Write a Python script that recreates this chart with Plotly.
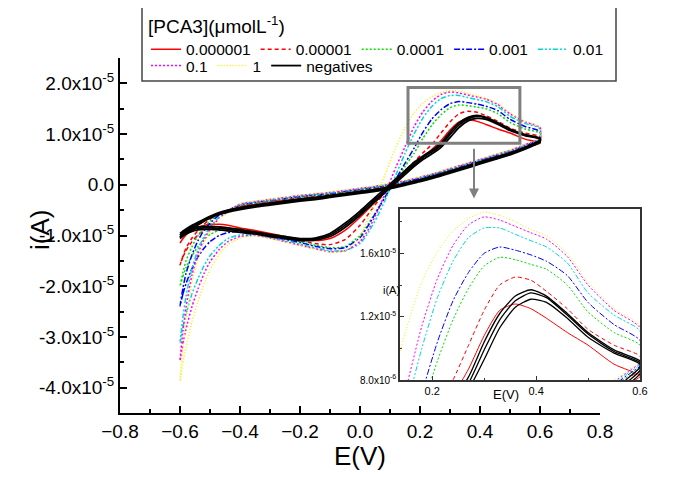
import numpy as np
import plotly.graph_objects as go

# ---------------- data (current in units of 1e-5 A) ----------------
E_FWD = [-0.60, -0.59, -0.58, -0.56, -0.54, -0.52, -0.50, -0.47, -0.44, -0.40,
         -0.35, -0.30, -0.25, -0.20, -0.15, -0.10, -0.05, 0.00, 0.03, 0.06,
         0.09, 0.12, 0.15, 0.18, 0.21, 0.24, 0.27, 0.30, 0.33, 0.36,
         0.39, 0.42, 0.46, 0.50, 0.55, 0.60]
E_REV = [0.60, 0.58, 0.55, 0.50, 0.45, 0.40, 0.35, 0.30, 0.25, 0.20,
         0.15, 0.10, 0.05, 0.00, -0.05, -0.10, -0.15, -0.20, -0.25, -0.30,
         -0.35, -0.40, -0.44, -0.47, -0.50, -0.52, -0.54, -0.56, -0.58, -0.59, -0.60]

labels = ["0.000001", "0.00001", "0.0001", "0.001", "0.01", "0.1", "1"]

fwd_0_000001 = [-1.15, -1.06, -0.99, -0.90, -0.84, -0.80, -0.78, -0.78, -0.80, -0.85,
                -0.90, -0.96, -1.02, -1.07, -1.10, -1.06, -0.90, -0.64, -0.46, -0.28,
                -0.10, 0.06, 0.22, 0.38, 0.54, 0.70, 0.87, 1.08, 1.24, 1.28,
                1.25, 1.19, 1.10, 1.02, 0.90, 0.83]
rev_0_000001 = [0.82, 0.78, 0.71, 0.61, 0.52, 0.44, 0.35, 0.26, 0.17, 0.09,
                0.02, -0.05, -0.10, -0.14, -0.18, -0.22, -0.25, -0.28, -0.31, -0.35,
                -0.39, -0.44, -0.50, -0.56, -0.64, -0.71, -0.79, -0.88, -0.98, -1.06, -1.15]

fwd_0_00001 = [-1.58, -1.42, -1.30, -1.12, -0.99, -0.90, -0.85, -0.83, -0.85, -0.90,
               -0.93, -0.98, -1.04, -1.10, -1.16, -1.18, -1.08, -0.80, -0.56, -0.32,
               -0.10, 0.10, 0.28, 0.45, 0.63, 0.80, 1.02, 1.24, 1.40, 1.45,
               1.43, 1.36, 1.25, 1.12, 1.02, 0.95]
rev_0_00001 = [0.86, 0.82, 0.75, 0.64, 0.55, 0.46, 0.37, 0.28, 0.19, 0.11,
               0.04, -0.02, -0.07, -0.11, -0.15, -0.19, -0.22, -0.25, -0.29, -0.33,
               -0.37, -0.42, -0.50, -0.57, -0.68, -0.78, -0.90, -1.05, -1.25, -1.40, -1.58]

fwd_0_0001 = [-2.00, -1.80, -1.64, -1.40, -1.22, -1.08, -0.98, -0.90, -0.88, -0.90,
              -0.95, -1.00, -1.06, -1.12, -1.19, -1.24, -1.22, -1.00, -0.75, -0.46,
              -0.18, 0.10, 0.36, 0.62, 0.92, 1.18, 1.38, 1.52, 1.575, 1.56,
              1.53, 1.50, 1.40, 1.23, 1.10, 1.02]
rev_0_0001 = [0.88, 0.83, 0.76, 0.65, 0.56, 0.47, 0.38, 0.29, 0.20, 0.12,
              0.05, -0.01, -0.06, -0.10, -0.14, -0.18, -0.21, -0.24, -0.28, -0.32,
              -0.36, -0.41, -0.50, -0.58, -0.72, -0.85, -1.00, -1.22, -1.50, -1.72, -2.00]

fwd_0_001 = [-2.39, -2.15, -1.95, -1.65, -1.42, -1.25, -1.12, -1.00, -0.94, -0.92,
             -0.97, -1.02, -1.08, -1.14, -1.21, -1.26, -1.24, -1.04, -0.78, -0.48,
             -0.18, 0.12, 0.42, 0.72, 1.04, 1.30, 1.48, 1.60, 1.64, 1.62,
             1.59, 1.55, 1.46, 1.29, 1.15, 1.05]
rev_0_001 = [0.89, 0.84, 0.77, 0.66, 0.57, 0.48, 0.39, 0.30, 0.21, 0.13,
             0.06, 0.00, -0.05, -0.09, -0.13, -0.17, -0.20, -0.23, -0.27, -0.31,
             -0.35, -0.40, -0.50, -0.60, -0.76, -0.90, -1.10, -1.38, -1.75, -2.03, -2.39]

fwd_0_01 = [-3.12, -2.80, -2.55, -2.15, -1.85, -1.60, -1.40, -1.20, -1.06, -0.99,
            -0.99, -1.04, -1.10, -1.17, -1.24, -1.30, -1.30, -1.16, -0.92, -0.60,
            -0.22, 0.20, 0.62, 1.00, 1.32, 1.55, 1.70, 1.76, 1.76, 1.72,
            1.68, 1.64, 1.54, 1.35, 1.21, 1.11]
rev_0_01 = [0.90, 0.85, 0.78, 0.67, 0.58, 0.49, 0.40, 0.31, 0.22, 0.14,
            0.07, 0.01, -0.04, -0.08, -0.12, -0.16, -0.19, -0.22, -0.26, -0.30,
            -0.34, -0.39, -0.52, -0.64, -0.84, -1.02, -1.28, -1.65, -2.20, -2.60, -3.12]

fwd_0_1 = [-3.47, -3.12, -2.85, -2.40, -2.05, -1.75, -1.52, -1.28, -1.12, -1.02,
           -1.00, -1.05, -1.12, -1.19, -1.26, -1.32, -1.30, -1.12, -0.86, -0.50,
           -0.08, 0.35, 0.75, 1.14, 1.44, 1.65, 1.78, 1.83, 1.81, 1.77,
           1.73, 1.69, 1.58, 1.40, 1.24, 1.13]
rev_0_1 = [0.91, 0.86, 0.79, 0.68, 0.59, 0.50, 0.41, 0.32, 0.23, 0.15,
           0.08, 0.02, -0.03, -0.07, -0.11, -0.15, -0.18, -0.21, -0.25, -0.29,
           -0.33, -0.38, -0.53, -0.66, -0.88, -1.08, -1.36, -1.78, -2.42, -2.88, -3.47]

fwd_1 = [-3.87, -3.50, -3.20, -2.70, -2.30, -1.95, -1.68, -1.38, -1.18, -1.05,
         -1.00, -1.06, -1.13, -1.20, -1.27, -1.33, -1.30, -1.02, -0.62, -0.16,
         0.30, 0.75, 1.12, 1.42, 1.61, 1.74, 1.82, 1.86, 1.84, 1.80,
         1.75, 1.71, 1.60, 1.42, 1.25, 1.14]
rev_1 = [0.92, 0.87, 0.80, 0.69, 0.60, 0.51, 0.42, 0.33, 0.24, 0.16,
         0.09, 0.03, -0.02, -0.06, -0.10, -0.14, -0.17, -0.20, -0.24, -0.28,
         -0.32, -0.37, -0.54, -0.68, -0.92, -1.14, -1.45, -1.92, -2.65, -3.20, -3.87]

fwd_neg_a = [-1.00, -0.95, -0.91, -0.86, -0.83, -0.82, -0.82, -0.83, -0.85, -0.88,
             -0.93, -0.98, -1.02, -1.06, -1.05, -0.96, -0.76, -0.52, -0.36, -0.20,
             -0.04, 0.12, 0.28, 0.44, 0.57, 0.68, 0.82, 1.04, 1.22, 1.33,
             1.37, 1.33, 1.22, 1.10, 0.99, 0.92]
rev_neg_a = [0.88, 0.82, 0.74, 0.63, 0.54, 0.45, 0.36, 0.27, 0.18, 0.10,
             0.03, -0.04, -0.09, -0.13, -0.17, -0.21, -0.25, -0.28, -0.32, -0.36,
             -0.40, -0.45, -0.50, -0.55, -0.62, -0.68, -0.74, -0.80, -0.87, -0.91, -0.96]
fwd_neg_b = [-1.03, -0.98, -0.94, -0.89, -0.86, -0.85, -0.85, -0.86, -0.88, -0.91,
             -0.95, -1.00, -1.04, -1.08, -1.07, -0.99, -0.80, -0.56, -0.40, -0.24,
             -0.08, 0.08, 0.24, 0.40, 0.54, 0.65, 0.78, 0.99, 1.18, 1.30,
             1.35, 1.32, 1.21, 1.09, 0.98, 0.91]
rev_neg_b = [0.86, 0.80, 0.72, 0.61, 0.52, 0.43, 0.34, 0.25, 0.16, 0.08,
             0.01, -0.06, -0.11, -0.15, -0.19, -0.23, -0.27, -0.30, -0.34, -0.38,
             -0.42, -0.47, -0.52, -0.57, -0.64, -0.70, -0.76, -0.83, -0.90, -0.95, -1.00]
fwd_neg_c = [-1.06, -1.01, -0.97, -0.92, -0.89, -0.88, -0.88, -0.89, -0.91, -0.94,
             -0.97, -1.02, -1.06, -1.10, -1.09, -1.02, -0.84, -0.60, -0.44, -0.28,
             -0.12, 0.04, 0.20, 0.36, 0.50, 0.61, 0.74, 0.93, 1.13, 1.26,
             1.31, 1.29, 1.19, 1.07, 0.97, 0.90]
rev_neg_c = [0.84, 0.78, 0.70, 0.59, 0.50, 0.41, 0.32, 0.23, 0.14, 0.06,
             -0.01, -0.08, -0.13, -0.17, -0.21, -0.25, -0.29, -0.32, -0.36, -0.40,
             -0.44, -0.49, -0.54, -0.59, -0.66, -0.72, -0.79, -0.86, -0.94, -0.99, -1.04]

conc_fwd = [fwd_0_000001, fwd_0_00001, fwd_0_0001, fwd_0_001, fwd_0_01, fwd_0_1, fwd_1]
conc_rev = [rev_0_000001, rev_0_00001, rev_0_0001, rev_0_001, rev_0_01, rev_0_1, rev_1]
neg_fwd = [fwd_neg_a, fwd_neg_b, fwd_neg_c]
neg_rev = [rev_neg_a, rev_neg_b, rev_neg_c]
UNIT = 1e-5

y_ticks = [-4, -3, -2, -1, 0, 1, 2]
y_ticktext = ["-4.0x10<sup>-5</sup>", "-3.0x10<sup>-5</sup>", "-2.0x10<sup>-5</sup>",
              "-1.0x10<sup>-5</sup>", "0.0", "1.0x10<sup>-5</sup>", "2.0x10<sup>-5</sup>"]
inset_y_ticks = [0.8, 1.2, 1.6]
inset_y_ticktext = ["8.0x10<sup>-6</sup>", "1.2x10<sup>-5</sup>", "1.6x10<sup>-5</sup>"]

# ---------------- styles ----------------
colors = ["#ff0000", "#ff0000", "#00e000", "#0000ff", "#00d8d8", "#ff00ff", "#f0f000"]
dashes = ["solid", "4px,3px", "2px,2px", "6px,2px,2px,2px", "5px,2px,2px,2px,2px,2px",
          "2px,2px", "1px,2px"]
FONT = "Liberation Sans, Arial, sans-serif"

fig = go.Figure()

def curve(f, r):
    x = list(E_FWD) + list(E_REV)
    y = (np.array(list(f) + list(r)) * UNIT).tolist()
    return x, y

for k in range(7):
    x, y = curve(conc_fwd[k], conc_rev[k])
    leg = "legend" if k < 5 else "legend2"
    for ax, w, show in (("", 1.5, True), ("2", 1.0, False)):
        fig.add_trace(go.Scatter(
            x=x, y=y, mode="lines", name=labels[k],
            line=dict(color=colors[k], dash=dashes[k], width=w, shape="spline", smoothing=0.6),
            xaxis="x" + ax, yaxis="y" + ax, showlegend=show, legend=leg,
            hoverinfo="skip"))

for j in range(3):
    x, y = curve(neg_fwd[j], neg_rev[j])
    for ax, w in (("", 1.8), ("2", 1.3)):
        fig.add_trace(go.Scatter(
            x=x, y=y, mode="lines", name="negatives",
            line=dict(color="black", width=w, shape="spline", smoothing=0.6),
            xaxis="x" + ax, yaxis="y" + ax,
            showlegend=(j == 0 and ax == ""), legend="legend2", hoverinfo="skip"))

L, R, T, B = 112, 53, 50, 72
PW, PH = 685 - L - R, 477 - T - B

def px(xp):
    return (xp - L) / PW

def py(yp):
    return (477 - B - yp) / PH

fig.update_layout(
    width=685, height=477,
    margin=dict(l=L, r=R, t=T, b=B, autoexpand=False),
    paper_bgcolor="white", plot_bgcolor="white",
    font=dict(family=FONT, color="black"),
    xaxis=dict(domain=[0, 480 / PW], range=[-0.8, 0.8], anchor="y",
               tick0=-0.8, dtick=0.2, tickformat=".1f",
               showline=True, linecolor="black", linewidth=2,
               ticks="inside", ticklen=7, tickwidth=2, tickcolor="black",
               minor=dict(ticks="inside", ticklen=4, tickwidth=2, dtick=0.1, tick0=-0.8, tickcolor="black"),
               tickfont=dict(size=19), showgrid=False, zeroline=False),
    yaxis=dict(domain=[0, 1], range=[-4.5e-5, 2.5e-5], anchor="x",
               tickmode="array", tickvals=[v * UNIT for v in y_ticks], ticktext=y_ticktext,
               showline=True, linecolor="black", linewidth=2,
               ticks="inside", ticklen=7, tickwidth=2, tickcolor="black",
               minor=dict(ticks="inside", ticklen=4, tickwidth=2, tickcolor="black",
                          tickmode="array", tickvals=[(v + 0.5) * UNIT for v in y_ticks[:-1]] + [2.5 * UNIT]),
               tickfont=dict(size=19), showgrid=False, zeroline=False),
    xaxis2=dict(domain=[px(392), 1.0], range=[0.138, 0.6], anchor="y2",
                tick0=0.2, dtick=0.2, tickformat=".1f",
                showline=True, mirror=True, linecolor="#333333", linewidth=1.5,
                ticks="inside", ticklen=4, tickcolor="#333333",
                minor=dict(ticks="inside", ticklen=2, dtick=0.1, tick0=0.2, tickcolor="#333333"),
                tickfont=dict(size=11), showgrid=False, zeroline=False),
    yaxis2=dict(domain=[py(372), py(201)], range=[0.8e-5, 1.88e-5], anchor="x2",
                tickmode="array", tickvals=[v * UNIT for v in inset_y_ticks], ticktext=inset_y_ticktext,
                showline=True, mirror=True, linecolor="#333333", linewidth=1.5,
                ticks="inside", ticklen=4, tickcolor="#333333",
                minor=dict(ticks="inside", ticklen=2, tickcolor="#333333",
                           tickmode="array", tickvals=[1.0 * UNIT, 1.4 * UNIT, 1.8 * UNIT]),
                tickfont=dict(size=10), showgrid=False, zeroline=False),
    legend=dict(x=px(138), y=py(0), xanchor="left", yanchor="top", orientation="h",
                bgcolor="rgba(0,0,0,0)", borderwidth=0, font=dict(size=15.5),
                title=dict(text="[PCA3](μmolL<sup>-1</sup>)", side="top", font=dict(size=19)),
                itemclick=False, itemdoubleclick=False),
    legend2=dict(x=px(138), y=py(41), xanchor="left", yanchor="top", orientation="h",
                 bgcolor="rgba(0,0,0,0)", borderwidth=0, font=dict(size=15.5),
                 itemclick=False, itemdoubleclick=False),
    showlegend=True,
)

# legend frame, zoom box and arrow
fig.add_shape(type="rect", xref="paper", yref="paper",
              x0=px(134), x1=px(608), y0=py(73), y1=py(-2),
              line=dict(color="#444444", width=1.5), fillcolor="white", layer="below")
fig.add_shape(type="rect", xref="x", yref="y", x0=0.16, x1=0.533, y0=0.82e-5, y1=1.92e-5,
              line=dict(color="#808080", width=3), layer="above")
fig.add_annotation(x=0.38, y=-0.27e-5, ax=0.38, ay=0.74e-5, xref="x", yref="y",
                   axref="x", ayref="y", showarrow=True, arrowhead=2, arrowsize=1,
                   arrowwidth=2, arrowcolor="#808080", text="")

# axis titles
fig.add_annotation(text="E(V)", xref="paper", yref="paper", x=px(352), y=py(465),
                   showarrow=False, font=dict(size=26))
fig.add_annotation(text="i(A)", xref="paper", yref="paper", x=px(15), y=py(222),
                   showarrow=False, textangle=-90, font=dict(size=26))
fig.add_annotation(text="E(V)", xref="paper", yref="paper", x=px(513), y=py(396),
                   showarrow=False, font=dict(size=13))
fig.add_annotation(text="i(A)", xref="paper", yref="paper", x=px(383), y=py(290),
                   showarrow=False, font=dict(size=11))

fig.write_html("out.html")
